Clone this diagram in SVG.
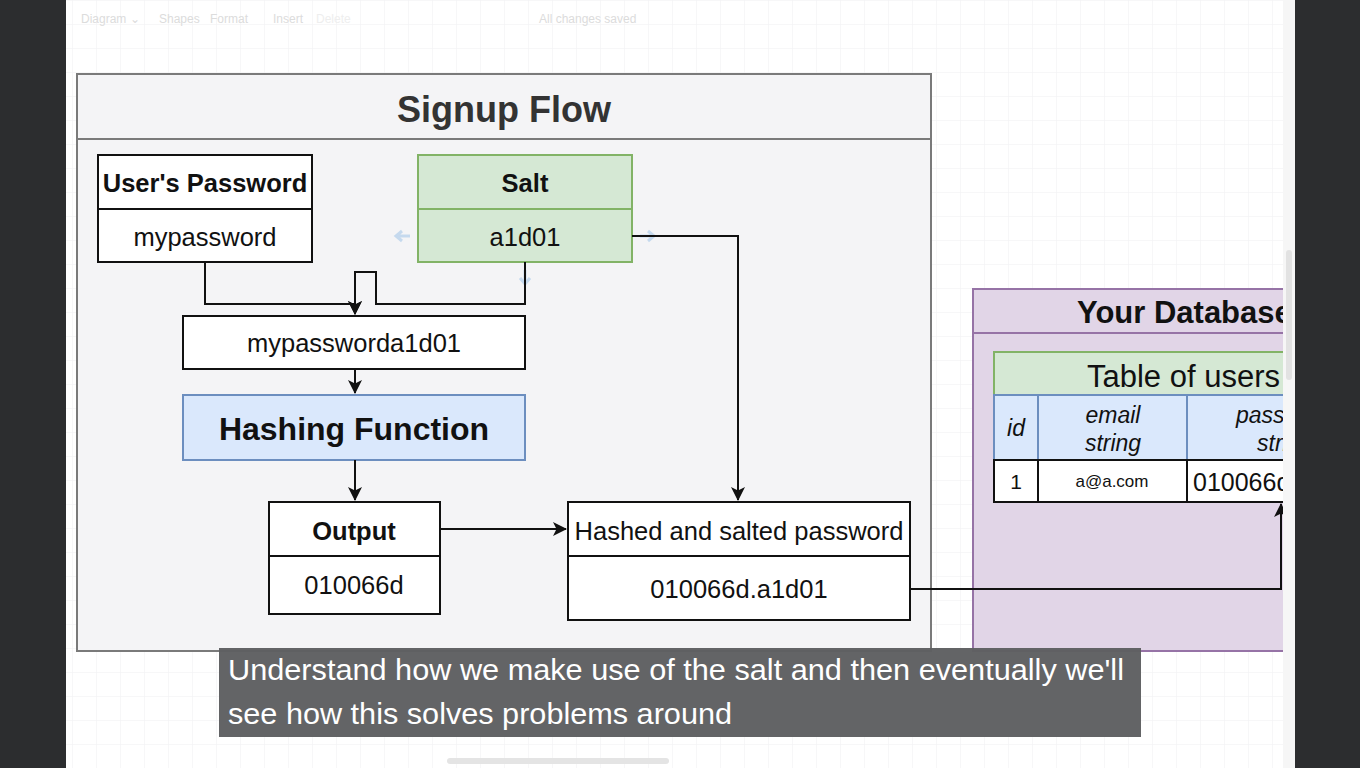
<svg xmlns="http://www.w3.org/2000/svg" width="1360" height="768" viewBox="0 0 1360 768">
<defs>
<style>
text{font-family:"Liberation Sans",Arial,sans-serif;fill:#111}
.box{fill:#fff;stroke:#111;stroke-width:2}
.green{fill:#d5e8d4;stroke:#82b366;stroke-width:2}
.blue{fill:#dae8fc;stroke:#6c8ebf;stroke-width:2}
.purple{fill:#e1d5e7;stroke:#9673a6;stroke-width:2}
.b{font-weight:bold}
.t22{font-size:25.5px}
.c{text-anchor:middle}
.edge{fill:none;stroke:#111;stroke-width:2}
.ui{fill:#dcdcdc;font-size:12px}
.cap{fill:#fff;font-size:29px}
</style>
<pattern id="grid" width="24" height="24" patternUnits="userSpaceOnUse">
<path d="M24 0H0V24" fill="none" stroke="#f0f0f2" stroke-width="1"/>
</pattern>
<marker id="ah" viewBox="0 0 14 14" refX="13" refY="7" markerWidth="14" markerHeight="14" markerUnits="userSpaceOnUse" orient="auto">
<path d="M0 0L14 7L0 14L3.5 7Z" fill="#111"/>
</marker>
<clipPath id="clipR"><rect x="0" y="0" width="1283" height="768"/></clipPath>
</defs>

<rect width="1360" height="768" fill="#fff"/>
<rect x="66" y="0" width="1229" height="768" fill="url(#grid)"/>
<rect x="0" y="0" width="66" height="768" fill="#2c2d2f"/>
<rect x="1295" y="0" width="65" height="768" fill="#2c2d2f"/>
<rect x="1283" y="0" width="12" height="768" fill="#f6f6f6"/>
<rect x="1286" y="250" width="6" height="130" rx="3" fill="#e2e2e2"/>

<g id="toolbar">
<text class="ui" x="81" y="23">Diagram ⌄</text>
<text class="ui" x="159" y="23">Shapes</text>
<text class="ui" x="210" y="23">Format</text>
<text class="ui" x="273" y="23">Insert</text>
<text class="ui" x="316" y="23" style="fill:#eeeeee">Delete</text>
<text class="ui" x="539" y="23">All changes saved</text>
</g>

<g id="signup-flow">
<rect x="77" y="74" width="854" height="577" fill="#f4f4f6" stroke="#7a7a7a" stroke-width="2"/>
<line x1="77" y1="139" x2="931" y2="139" stroke="#7a7a7a" stroke-width="2"/>
<text class="b c" x="504" y="122" font-size="36" style="fill:#333">Signup Flow</text>
</g>

<g id="database" clip-path="url(#clipR)">
<rect x="973" y="289" width="400" height="362" class="purple"/>
<line x1="973" y1="333" x2="1373" y2="333" stroke="#9673a6" stroke-width="2"/>
<text class="b" x="1077" y="323" font-size="31">Your Database</text>
</g>

<g id="users-table" clip-path="url(#clipR)">
<rect x="994" y="352" width="400" height="43" class="green"/>
<text x="1087" y="387" font-size="31">Table of users</text>
<rect x="994" y="395" width="44" height="65" class="blue"/>
<rect x="1038" y="395" width="149" height="65" class="blue"/>
<rect x="1187" y="395" width="200" height="65" class="blue"/>
<text class="c" x="1016" y="436" font-size="23" font-style="italic">id</text>
<text class="c" x="1113" y="423" font-size="23" font-style="italic">email</text>
<text class="c" x="1113" y="451" font-size="23" font-style="italic">string</text>
<text x="1236" y="423" font-size="23" font-style="italic">password</text>
<text x="1257" y="451" font-size="23" font-style="italic">string</text>
<rect x="994" y="460" width="44" height="42" class="box"/>
<rect x="1038" y="460" width="149" height="42" class="box"/>
<rect x="1187" y="460" width="200" height="42" class="box"/>
<text class="c" x="1016" y="489" font-size="21">1</text>
<text class="c" x="1112" y="487" font-size="17">a@a.com</text>
<text x="1193" y="491" font-size="25">010066d.a1d01</text>
</g>

<g id="users-password">
<rect x="98" y="155" width="214" height="107" class="box"/>
<line x1="98" y1="209" x2="312" y2="209" stroke="#111" stroke-width="2"/>
<text class="b c t22" x="205" y="192">User's Password</text>
<text class="c t22" x="205" y="246">mypassword</text>
</g>

<g id="salt">
<rect x="418" y="155" width="214" height="107" class="green"/>
<line x1="418" y1="209" x2="632" y2="209" stroke="#82b366" stroke-width="2"/>
<text class="b c t22" x="525" y="192">Salt</text>
<text class="c t22" x="525" y="246">a1d01</text>
<path d="M410 236h-14M402 231l-6 5l6 5" fill="none" stroke="#c5d9ee" stroke-width="3"/>
<path d="M640 236h14M648 231l6 5l-6 5" fill="none" stroke="#c5d9ee" stroke-width="3"/>
<path d="M525 270v14M520 278l5 6l5-6" fill="none" stroke="#c5d9ee" stroke-width="3"/>
</g>

<g id="combined">
<rect x="183" y="316" width="342" height="53" class="box"/>
<text class="c t22" x="354" y="352">mypassworda1d01</text>
</g>

<g id="hashing-function">
<rect x="183" y="395" width="342" height="65" class="blue"/>
<text class="b c" x="354" y="440" font-size="32">Hashing Function</text>
</g>

<g id="output">
<rect x="269" y="502" width="171" height="112" class="box"/>
<line x1="269" y1="556" x2="440" y2="556" stroke="#111" stroke-width="2"/>
<text class="b c t22" x="354" y="540">Output</text>
<text class="c t22" x="354" y="594">010066d</text>
</g>

<g id="hashed-salted">
<rect x="568" y="502" width="342" height="118" class="box"/>
<line x1="568" y1="556" x2="910" y2="556" stroke="#111" stroke-width="2"/>
<text class="c t22" x="739" y="540">Hashed and salted password</text>
<text class="c t22" x="739" y="598">010066d.a1d01</text>
</g>

<g id="connectors">
<path class="edge" d="M205 262V304H355V314" marker-end="url(#ah)"/>
<path class="edge" d="M525 262V304H376V272H355V314" marker-end="url(#ah)"/>
<path class="edge" d="M355 369V393" marker-end="url(#ah)"/>
<path class="edge" d="M355 460V500" marker-end="url(#ah)"/>
<path class="edge" d="M440 529H566" marker-end="url(#ah)"/>
<path class="edge" d="M632 236H738V500" marker-end="url(#ah)"/>
<path class="edge" d="M910 589H1282"/>
<path class="edge" d="M1281 589V504" marker-end="url(#ah)" clip-path="url(#clipR)"/>
</g>

<g id="caption">
<rect x="219" y="648" width="922" height="89" fill="#5e5f61" opacity="0.97"/>
<text class="cap" x="228" y="680" textLength="896" lengthAdjust="spacingAndGlyphs">Understand how we make use of the salt and then eventually we'll</text>
<text class="cap" x="228" y="724" textLength="504" lengthAdjust="spacingAndGlyphs">see how this solves problems around</text>
</g>
<rect x="447" y="758" width="222" height="6" rx="3" fill="#e4e4e4"/>
</svg>
